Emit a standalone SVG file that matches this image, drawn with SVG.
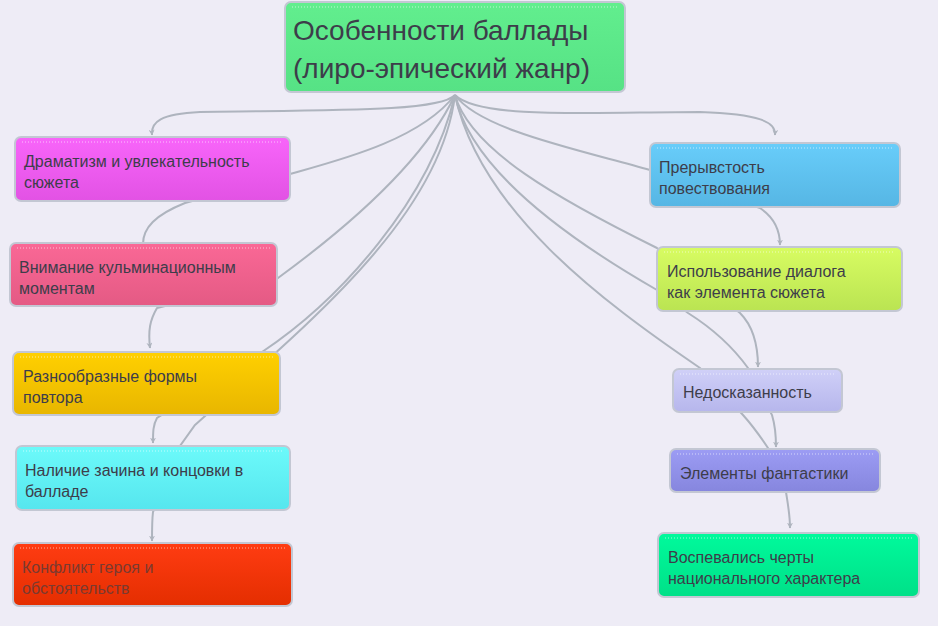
<svg xmlns="http://www.w3.org/2000/svg" width="938" height="626" viewBox="0 0 938 626">
<style>
.n{stroke:#c3c7d3;stroke-width:2}
.d{stroke:#fff;stroke-opacity:.6;stroke-width:1;stroke-dasharray:1 2}
.t{font-family:"Liberation Sans",Arial,sans-serif;font-size:16px;fill:#3d3d4a}
.c path{fill:none;stroke:#aeb4be;stroke-width:2}
</style>
<defs>
<marker id="a" viewBox="0 0 10 10" refX="9" refY="5" markerWidth="6" markerHeight="6" orient="auto" markerUnits="userSpaceOnUse"><path d="M0,0L10,5L0,10L3,5z" fill="#aeb4be"/></marker>
<linearGradient id="g0" x1="0" y1="0" x2="0" y2="1"><stop offset="0" stop-color="#62ee8e"/><stop offset="1" stop-color="#56e285"/></linearGradient>
<linearGradient id="g1" x1="0" y1="0" x2="0" y2="1"><stop offset="0" stop-color="#f865fa"/><stop offset="1" stop-color="#e252e4"/></linearGradient>
<linearGradient id="g2" x1="0" y1="0" x2="0" y2="1"><stop offset="0" stop-color="#fa6896"/><stop offset="1" stop-color="#e45a84"/></linearGradient>
<linearGradient id="g3" x1="0" y1="0" x2="0" y2="1"><stop offset="0" stop-color="#ffd000"/><stop offset="1" stop-color="#e8b600"/></linearGradient>
<linearGradient id="g4" x1="0" y1="0" x2="0" y2="1"><stop offset="0" stop-color="#6cfafa"/><stop offset="1" stop-color="#56e6ee"/></linearGradient>
<linearGradient id="g5" x1="0" y1="0" x2="0" y2="1"><stop offset="0" stop-color="#ff3c12"/><stop offset="1" stop-color="#e42e00"/></linearGradient>
<linearGradient id="g6" x1="0" y1="0" x2="0" y2="1"><stop offset="0" stop-color="#68cdfa"/><stop offset="1" stop-color="#56b6e4"/></linearGradient>
<linearGradient id="g7" x1="0" y1="0" x2="0" y2="1"><stop offset="0" stop-color="#d8fc62"/><stop offset="1" stop-color="#bae452"/></linearGradient>
<linearGradient id="g8" x1="0" y1="0" x2="0" y2="1"><stop offset="0" stop-color="#d0d0f8"/><stop offset="1" stop-color="#b6b6ec"/></linearGradient>
<linearGradient id="g9" x1="0" y1="0" x2="0" y2="1"><stop offset="0" stop-color="#9c9cf4"/><stop offset="1" stop-color="#8686de"/></linearGradient>
<linearGradient id="g10" x1="0" y1="0" x2="0" y2="1"><stop offset="0" stop-color="#00fa9c"/><stop offset="1" stop-color="#00e088"/></linearGradient>
</defs>
<rect width="938" height="626" fill="#eeecf6"/>
<g class="c">
<path d="M455,95 C440,112 330,110 200,112 C160,114 151,122 152,135" marker-end="url(#a)"/>
<path d="M455,95 C420,140 340,160 290,174 L185,203 C155,215 143,228 143,244"/>
<path d="M455,95 C420,170 330,240 278,278 L157,308 C150,320 148,330 150,348" marker-end="url(#a)"/>
<path d="M455,95 C430,200 340,300 262,352 L157,418 C153,425 153,432 153,443" marker-end="url(#a)"/>
<path d="M455,95 C440,220 300,330 195,425 L180,446 L153,512 C152,520 152,530 152,541" marker-end="url(#a)"/>
<path d="M455,95 C480,120 600,112 700,112 C760,114 776,122 775,135" marker-end="url(#a)"/>
<path d="M455,95 C480,130 580,150 650,170 L760,208 C772,216 780,228 780,245" marker-end="url(#a)"/>
<path d="M455,95 C470,150 560,200 657,248 L740,313 C752,325 758,345 758,367" marker-end="url(#a)"/>
<path d="M455,95 C470,170 570,240 657,290 L688,313 C715,330 735,350 748,368 L772,415 C775,425 776,435 776,447" marker-end="url(#a)"/>
<path d="M455,95 C480,210 600,300 700,368 L743,415 C752,425 760,436 768,448 L786,492 C788,505 790,515 790,528" marker-end="url(#a)"/>
</g>
<g id="hub"><rect class="n" x="285" y="2" width="340" height="90" rx="6" fill="url(#g0)"/><line class="d" x1="292" y1="7" x2="618" y2="7"/><text class="t" style="font-size:28px" fill="#333"><tspan x="293" y="40">Особенности баллады</tspan><tspan x="293" y="78">(лиро-эпический жанр)</tspan></text></g>
<g id="n1"><rect class="n" x="15" y="137" width="275" height="64" rx="6" fill="url(#g1)"/><line class="d" x1="22" y1="142" x2="283" y2="142"/><text class="t"><tspan x="24" y="167">Драматизм и увлекательность</tspan><tspan x="24" y="188">сюжета</tspan></text></g>
<g id="n2"><rect class="n" x="10" y="243" width="267" height="63" rx="6" fill="url(#g2)"/><line class="d" x1="17" y1="248" x2="270" y2="248"/><text class="t"><tspan x="19" y="273">Внимание кульминационным</tspan><tspan x="19" y="294">моментам</tspan></text></g>
<g id="n3"><rect class="n" x="13" y="352" width="267" height="63" rx="6" fill="url(#g3)"/><line class="d" x1="20" y1="357" x2="273" y2="357"/><text class="t"><tspan x="23" y="382">Разнообразные формы</tspan><tspan x="23" y="403">повтора</tspan></text></g>
<g id="n4"><rect class="n" x="16" y="446" width="274" height="64" rx="6" fill="url(#g4)"/><line class="d" x1="23" y1="451" x2="283" y2="451"/><text class="t"><tspan x="25" y="476">Наличие зачина и концовки в</tspan><tspan x="25" y="497">балладе</tspan></text></g>
<g id="n5"><rect class="n" x="13" y="543" width="279" height="63" rx="6" fill="url(#g5)"/><line class="d" x1="20" y1="548" x2="285" y2="548"/><text class="t" fill="#6a3a3a" style="fill:#7a3a30"><tspan x="22" y="573">Конфликт героя и</tspan><tspan x="22" y="594">обстоятельств</tspan></text></g>
<g id="n6"><rect class="n" x="650" y="143" width="250" height="64" rx="6" fill="url(#g6)"/><line class="d" x1="657" y1="148" x2="893" y2="148"/><text class="t"><tspan x="659" y="173">Прерывстость</tspan><tspan x="659" y="194">повествования</tspan></text></g>
<g id="n7"><rect class="n" x="657" y="247" width="245" height="64" rx="6" fill="url(#g7)"/><line class="d" x1="664" y1="252" x2="895" y2="252"/><text class="t"><tspan x="667" y="277">Использование диалога</tspan><tspan x="667" y="298">как элемента сюжета</tspan></text></g>
<g id="n8"><rect class="n" x="673" y="369" width="169" height="43" rx="6" fill="url(#g8)"/><line class="d" x1="680" y1="374" x2="835" y2="374"/><text class="t" x="683" y="398">Недосказанность</text></g>
<g id="n9"><rect class="n" x="670" y="449" width="210" height="43" rx="6" fill="url(#g9)"/><line class="d" x1="677" y1="454" x2="873" y2="454"/><text class="t" x="680" y="479">Элементы фантастики</text></g>
<g id="n10"><rect class="n" x="658" y="533" width="261" height="64" rx="6" fill="url(#g10)"/><line class="d" x1="665" y1="538" x2="912" y2="538"/><text class="t"><tspan x="668" y="563">Воспевались черты</tspan><tspan x="668" y="584">национального характера</tspan></text></g>
</svg>
